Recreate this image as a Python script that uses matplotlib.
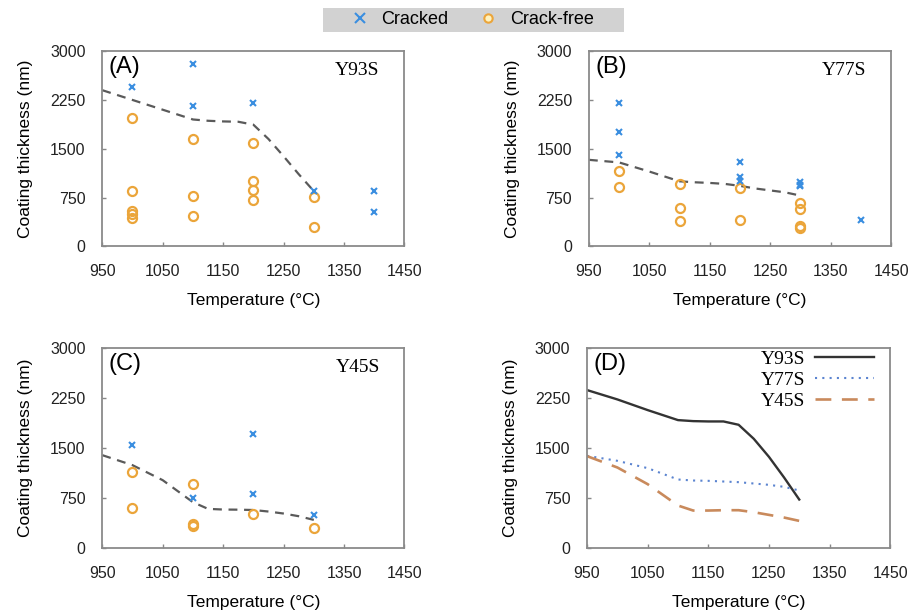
import numpy as np
import matplotlib
matplotlib.use("Agg")
import matplotlib.pyplot as plt
from matplotlib.lines import Line2D
from matplotlib.patches import Rectangle

plt.rcParams['font.family'] = ['Liberation Sans', 'DejaVu Sans']

# ---- data ----
# panel A: Y93S
a_crack_t = [1000, 1100, 1100, 1200, 1300, 1400, 1400]
a_crack_h = [2455, 2800, 2150, 2200, 850, 850, 535]
a_free_t = [1000, 1000, 1000, 1000, 1000, 1100, 1100, 1100, 1200, 1200, 1200, 1200, 1300, 1300]
a_free_h = [1980, 850, 540, 500, 440, 1655, 775, 460, 1590, 1010, 860, 720, 760, 295]

# panel B: Y77S
b_crack_t = [1000, 1000, 1000, 1200, 1200, 1200, 1300, 1300, 1300, 1400]
b_crack_h = [2200, 1760, 1400, 1290, 1060, 1010, 990, 950, 930, 400]
b_free_t = [1000, 1000, 1100, 1100, 1100, 1200, 1200, 1300, 1300, 1300, 1300]
b_free_h = [1160, 905, 960, 590, 385, 890, 410, 670, 580, 320, 280]

# panel C: Y45S
c_crack_t = [1000, 1100, 1200, 1200, 1300]
c_crack_h = [1540, 760, 1710, 810, 500]
c_free_t = [1000, 1000, 1100, 1100, 1100, 1200, 1300]
c_free_h = [1140, 600, 970, 370, 330, 510, 310]

# boundary curves (dashed in A-C)
curve_t = [950, 1000, 1050, 1100, 1125, 1150, 1175, 1200, 1225, 1250, 1275, 1300]
a_bound = [2400, 2250, 2100, 1950, 1930, 1920, 1915, 1870, 1650, 1385, 1110, 850]
b_bound = [1330, 1290, 1150, 1000, 985, 975, 960, 930, 890, 860, 830, 780]
c_bound = [1395, 1245, 1020, 690, 590, 580, 578, 573, 550, 520, 480, 425]

# panel D curves
y93s = [2370, 2230, 2070, 1920, 1905, 1900, 1900, 1850, 1640, 1370, 1060, 730]
y77s = [1385, 1310, 1200, 1030, 1015, 1010, 1000, 990, 970, 950, 920, 865]
y45s = [1380, 1210, 960, 640, 565, 565, 570, 570, 540, 500, 460, 410]

panels = ['(A)', '(B)', '(C)', '(D)']
names = ['Y93S', 'Y77S', 'Y45S']
xticks = [950, 1050, 1150, 1250, 1350, 1450]
yticks = [0, 750, 1500, 2250, 3000]

c_crack = '#3a8ee0'
c_free = '#eba53a'
c_93 = '#333333'
c_77 = '#5b84d0'
c_45 = '#c98a5c'

fig = plt.figure(figsize=(9.13, 6.16), dpi=100)
pos = [[0.112, 0.600, 0.331, 0.317],
       [0.645, 0.600, 0.331, 0.317],
       [0.112, 0.110, 0.331, 0.325],
       [0.643, 0.110, 0.332, 0.325]]
axes = [fig.add_axes(p) for p in pos]

for ax, lab in zip(axes, panels):
    ax.set_xlim(950, 1450)
    ax.set_ylim(0, 3000)
    ax.set_xticks(xticks)
    ax.set_yticks(yticks)
    ax.tick_params(direction='in', length=3, width=1, color='#888888',
                   labelsize=11.5, labelcolor='#222222')
    ax.tick_params(axis='x', pad=13)
    ax.tick_params(axis='y', pad=12)
    for s in ax.spines.values():
        s.set_color('#8a8a8a')
        s.set_linewidth(1.3)
    ax.set_xlabel('Temperature (°C)', fontsize=12.5, labelpad=10)
    ax.set_ylabel('Coating thickness (nm)', fontsize=12.5, labelpad=12)
    ax.text(0.022, 0.975, lab, transform=ax.transAxes, fontsize=17,
            ha='left', va='top')

scatter_sets = [(a_crack_t, a_crack_h, a_free_t, a_free_h, a_bound),
                (b_crack_t, b_crack_h, b_free_t, b_free_h, b_bound),
                (c_crack_t, c_crack_h, c_free_t, c_free_h, c_bound)]

for ax, name, (ct, ch, ft, fh, curve) in zip(axes[:3], names, scatter_sets):
    ax.plot(curve_t, curve, ls=(0, (4, 3)), color='#5a5a5a', lw=1.6, zorder=2)
    ax.plot(ft, fh, 'o', ms=6.5, mfc='none', mec=c_free, mew=1.6, zorder=3)
    ax.plot(ct, ch, 'x', ms=5, color=c_crack, mew=1.5, zorder=4)
    ax.text(0.918, 0.945, name, transform=ax.transAxes, fontsize=14,
            family='Liberation Serif', ha='right', va='top')

axd = axes[3]
axd.plot(curve_t, y93s, color=c_93, lw=1.7, label='Y93S')
axd.plot(curve_t, y77s, color=c_77, lw=1.5, ls=(0, (1, 2.5)), label='Y77S')
axd.plot(curve_t, y45s, color=c_45, lw=1.9, ls=(0, (6, 4)), label='Y45S')
axd.legend(loc='upper right', bbox_to_anchor=(0.945, 0.99), frameon=False,
           markerfirst=False,
           prop={'family': 'Liberation Serif', 'size': 14},
           handlelength=3.0, labelspacing=0.18, borderaxespad=0,
           borderpad=0, handletextpad=0.5)

# top legend on a grey band
fig.patches.append(Rectangle((0.354, 0.948), 0.329, 0.039,
                             transform=fig.transFigure, facecolor='#d2d2d2',
                             edgecolor='none', zorder=0))
handles = [Line2D([], [], ls='none', marker='x', ms=7, mew=1.5, color=c_crack),
           Line2D([], [], ls='none', marker='o', ms=6, mfc='#fff3c0', mec=c_free, mew=1.5)]
fig.legend(handles, ['Cracked', 'Crack-free'], loc='center',
           bbox_to_anchor=(0.517, 0.968), ncol=2, fontsize=13,
           frameon=False, columnspacing=1.7, handletextpad=0.7,
           handlelength=1.0, borderpad=0)

plt.savefig('out.png', dpi=100)
plt.close()
